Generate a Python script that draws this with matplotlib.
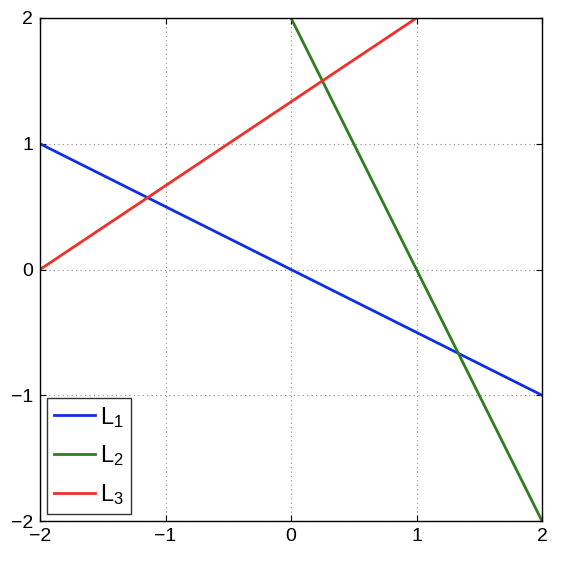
import matplotlib
matplotlib.use("Agg")
import matplotlib.pyplot as plt
import numpy as np

plt.rcParams['font.family'] = ['Liberation Sans', 'DejaVu Sans']
plt.rcParams['mathtext.fontset'] = 'custom'
plt.rcParams['mathtext.rm'] = 'Liberation Sans'
plt.rcParams['mathtext.it'] = 'Liberation Sans'

x_vals = [-2, 2]
l1_y = [1, -1]
l2_x = [0, 2]
l2_y = [2, -2]
l3_x = [-2, 1]
l3_y = [0, 2]
labels = ['L$_1$', 'L$_2$', 'L$_3$']
colors = ['#1030e0', '#2e7d1e', '#f0302a']
ticks = [-2, -1, 0, 1, 2]

fig = plt.figure(figsize=(5.62, 5.62), dpi=100)
ax = fig.add_axes([40/562, 1-521/562, 502/562, 503/562])
ax.plot(x_vals, l1_y, color=colors[0], lw=2, label=labels[0])
ax.plot(l2_x, l2_y, color=colors[1], lw=2, label=labels[1])
ax.plot(l3_x, l3_y, color=colors[2], lw=2, label=labels[2])
ax.set_xlim(-2, 2)
ax.set_ylim(-2, 2)
ax.set_xticks(ticks)
ax.set_yticks(ticks)
ax.set_xticklabels(['\u22122', '\u22121', '0', '1', '2'])
ax.set_yticklabels(['\u22122', '\u22121', '0', '1', '2'])
ax.grid(True, linestyle=(0, (1, 3)), color='#888888', lw=0.8)
ax.tick_params(direction='in', top=True, right=True, length=4, labelsize=14, pad=5)
for s in ax.spines.values():
    s.set_linewidth(1.0)
leg = ax.legend(loc='lower left', fontsize=17, frameon=True, fancybox=False,
                edgecolor='black', handlelength=1.75, borderaxespad=0.3,
                labelspacing=0.58, handletextpad=0.2, borderpad=0.3)
leg.get_frame().set_linewidth(1.0)
fig.savefig('out.png', dpi=100)
